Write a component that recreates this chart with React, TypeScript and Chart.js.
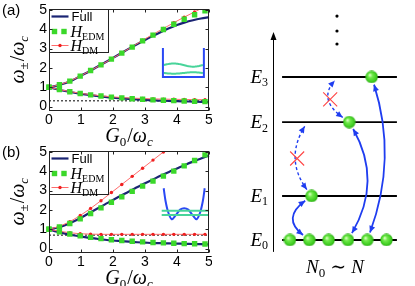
import React, { useEffect, useRef } from "react";
import { Chart, registerables } from "chart.js";

Chart.register(...registerables);

// ---------------- data: panels (a) and (b) ----------------
const G_LINE = [0, 0.25, 0.5, 0.75, 1, 1.25, 1.5, 1.75, 2, 2.25, 2.5, 2.75, 3, 3.25, 3.5, 3.75, 4, 4.25, 4.5, 4.75, 5];
const G_MARK = [0, 0.325, 0.65, 0.975, 1.3, 1.625, 1.95, 2.275, 2.6, 2.925, 3.25, 3.575, 3.9, 4.225, 4.55, 4.875];
const X_TICKS = [0, 1, 2, 3, 4, 5];
const Y_TICKS = [0, 1, 2, 3, 4, 5];

const A_FULL_UP = [1.0, 1.09, 1.21, 1.38, 1.6, 1.82, 2.05, 2.28, 2.52, 2.76, 3.0, 3.23, 3.45, 3.66, 3.86, 4.05, 4.22, 4.36, 4.47, 4.56, 4.63];
const A_FULL_LO = [1.0, 0.9, 0.81, 0.73, 0.66, 0.6, 0.55, 0.5, 0.46, 0.43, 0.4, 0.37, 0.35, 0.33, 0.31, 0.3, 0.28, 0.27, 0.26, 0.25, 0.245];
const A_EDM_UP = [1.0, 1.13, 1.32, 1.58, 1.87, 2.16, 2.46, 2.77, 3.08, 3.4, 3.7, 3.99, 4.26, 4.52, 4.75, 4.96];
const A_EDM_LO = [1.0, 0.88, 0.77, 0.68, 0.61, 0.55, 0.49, 0.45, 0.41, 0.38, 0.35, 0.33, 0.31, 0.29, 0.27, 0.26];
const A_DM_UP = [1.0, 1.13, 1.32, 1.58, 1.87, 2.16, 2.46, 2.78, 3.1, 3.43, 3.74, 4.04, 4.34, 4.63, 4.9, 5.17];
const A_DM_LO = [1.0, 0.88, 0.78, 0.69, 0.62, 0.56, 0.51, 0.47, 0.44, 0.42, 0.4, 0.39, 0.38, 0.37, 0.36, 0.36];
const A_LIMIT = 0.3;

const B_FULL_UP = [1.0, 1.08, 1.21, 1.39, 1.6, 1.83, 2.06, 2.29, 2.52, 2.74, 2.96, 3.17, 3.38, 3.58, 3.78, 3.97, 4.15, 4.33, 4.5, 4.66, 4.82];
const B_FULL_LO = [1.0, 0.88, 0.78, 0.69, 0.62, 0.56, 0.51, 0.46, 0.42, 0.39, 0.36, 0.33, 0.31, 0.29, 0.28, 0.27, 0.26, 0.25, 0.24, 0.23, 0.22];
const B_EDM_UP = [1.0, 1.12, 1.3, 1.54, 1.82, 2.11, 2.4, 2.68, 2.96, 3.23, 3.49, 3.75, 4.01, 4.28, 4.56, 4.85];
const B_EDM_LO = [1.0, 0.87, 0.76, 0.66, 0.58, 0.52, 0.46, 0.42, 0.38, 0.35, 0.32, 0.3, 0.28, 0.26, 0.25, 0.24];
const B_DM_UP = [1.0, 1.15, 1.39, 1.71, 2.08, 2.48, 2.9, 3.32, 3.74, 4.16, 4.58, 5.0, 5.42, 5.84, 6.26, 6.68];
const B_DM_LO = [1.0, 0.9, 0.82, 0.77, 0.75, 0.74, 0.74, 0.74, 0.74, 0.74, 0.74, 0.74, 0.74, 0.74, 0.74, 0.74];
const B_LIMIT = 0.7;

const LEGEND_NAMES = ["Full", "EDM", "DM"];

// ---------------- data: panel (c) ----------------
const LEVEL_E = [0, 1, 2.68, 3.705];
const LEVEL_SUB = ["0", "1", "2", "3"];
const GROUND_SITES = [0, 1, 2, 3, 4, 5];
const EXCITED = [
  { x: 1.12, level: 1 },
  { x: 3.07, level: 2 },
  { x: 4.23, level: 3 },
];
const ELLIPSIS_Y = [4.455, 4.75, 5.09];
const TRANSITIONS = [
  { from: { x: 1, level: 0 }, to: { x: 1.12, level: 1 }, allowed: true, bend: -29 },
  { from: { x: 3, level: 0 }, to: { x: 3.07, level: 2 }, allowed: true, bend: 34 },
  { from: { x: 4, level: 0 }, to: { x: 4.23, level: 3 }, allowed: true, bend: 28 },
  { from: { x: 1.12, level: 1 }, to: { x: 0.9, level: 2 }, allowed: false, bend: -25 },
  { from: { x: 3.07, level: 2 }, to: { x: 2.49, level: 3 }, allowed: false, bend: -26 },
];

// ---------------- styles ----------------
const SERIF = '"Liberation Serif", "DejaVu Serif", serif';
const SANS_FAMILY = '"Liberation Sans", Arial, sans-serif';
const it = (s: number) => `italic ${s}px ${SERIF}`;
const rm = (s: number) => `${s}px ${SERIF}`;
const sans = (s: number) => `${s}px ${SANS_FAMILY}`;

const NAVY = "#1a2473";
const GREEN = "#3bd82a";
const RED_LINE = "#ff6b6b";
const RED_DOT = "#f02020";
const ARROW_BLUE = "#1f3df0";
const INSET_BLUE = "#2a48f5";
const INSET_TEAL = "#48d49a";

type Seg = { t: string; f: string; dy?: number; gap?: number; pre?: number };

function drawSegs(ctx: CanvasRenderingContext2D, segs: Seg[], x: number, y: number, align: string) {
  let w = 0;
  const widths = segs.map((s) => {
    ctx.font = s.f;
    const m = ctx.measureText(s.t).width + (s.gap || 0) + (s.pre || 0);
    w += m;
    return m;
  });
  let cx = align === "left" ? x : align === "center" ? x - w / 2 : x - w;
  ctx.textAlign = "left";
  ctx.textBaseline = "alphabetic";
  segs.forEach((s, i) => {
    ctx.font = s.f;
    ctx.fillText(s.t, cx + (s.pre || 0), y + (s.dy || 0));
    cx += widths[i];
  });
}

function smoothPath(ctx: CanvasRenderingContext2D, pts: number[][]) {
  ctx.moveTo(pts[0][0], pts[0][1]);
  for (let i = 0; i < pts.length - 1; i++) {
    const p0 = pts[Math.max(0, i - 1)];
    const p1 = pts[i];
    const p2 = pts[i + 1];
    const p3 = pts[Math.min(pts.length - 1, i + 2)];
    ctx.bezierCurveTo(
      p1[0] + (p2[0] - p0[0]) / 6, p1[1] + (p2[1] - p0[1]) / 6,
      p2[0] - (p3[0] - p1[0]) / 6, p2[1] - (p3[1] - p1[1]) / 6,
      p2[0], p2[1]
    );
  }
}

// inset decorations (data-space anchors)
const BOX_INSET = { left: 3.56, right: 4.84, top: 3.03, bottom: 1.53, levels: [2.15, 1.74] };
const WELL_INSET = { center: 4.225, bottom: 1.52 };

function drawBoxInset(ctx: CanvasRenderingContext2D, xs: any, ys: any) {
  const x0 = xs.getPixelForValue(BOX_INSET.left);
  const x1 = xs.getPixelForValue(BOX_INSET.right);
  const yt = ys.getPixelForValue(BOX_INSET.top);
  const yb = ys.getPixelForValue(BOX_INSET.bottom);
  ctx.save();
  ctx.lineWidth = 2;
  ctx.strokeStyle = INSET_TEAL;
  BOX_INSET.levels.forEach((lv, k) => {
    const ly = ys.getPixelForValue(lv);
    const amp = k === 0 ? -1.6 : 0.7;
    ctx.beginPath();
    for (let i = 0; i <= 40; i++) {
      const t = i / 40;
      const px = x0 + 1 + t * (x1 - x0 - 2);
      const py = ly + amp * Math.sin(2 * Math.PI * t);
      if (i === 0) ctx.moveTo(px, py);
      else ctx.lineTo(px, py);
    }
    ctx.stroke();
  });
  ctx.strokeStyle = INSET_BLUE;
  ctx.beginPath();
  ctx.moveTo(x0, yt);
  ctx.lineTo(x0, yb);
  ctx.lineTo(x1, yb);
  ctx.lineTo(x1, yt);
  ctx.stroke();
  ctx.restore();
}

function drawWellInset(ctx: CanvasRenderingContext2D, xs: any, ys: any) {
  const cx = xs.getPixelForValue(WELL_INSET.center);
  const cy = ys.getPixelForValue(WELL_INSET.bottom);
  const shape = [[-20.5, 31], [-18.6, 18], [-16, 7], [-12.5, 0], [-8.5, 4], [-4, 9.6], [0, 11], [4, 9.6], [8.5, 4], [12.5, 0], [16, 7], [18.6, 18], [20.5, 31]];
  ctx.save();
  ctx.lineWidth = 2;
  ctx.strokeStyle = INSET_BLUE;
  ctx.beginPath();
  smoothPath(ctx, shape.map((p) => [cx + p[0], cy - p[1]]));
  ctx.stroke();
  ctx.strokeStyle = INSET_TEAL;
  [8.6, 4.3].forEach((h) => {
    ctx.beginPath();
    ctx.moveTo(cx - 22.5, cy - h);
    ctx.lineTo(cx + 24, cy - h);
    ctx.stroke();
  });
  ctx.restore();
}

function panelPlugin(p: any) {
  return {
    id: "panelDeco",
    afterDatasetsDraw(chart: any) {
      const { ctx, scales } = chart;
      if (p.inset === "box") drawBoxInset(ctx, scales.x, scales.y);
      else drawWellInset(ctx, scales.x, scales.y);
    },
    afterDraw(chart: any) {
      const { ctx, chartArea: ca, scales } = chart;
      const xs = scales.x;
      const ys = scales.y;
      const L = Math.round(ca.left) + 0.5;
      const R = Math.round(ca.right) - 0.5;
      const T = Math.round(ca.top) + 0.5;
      const B = Math.round(ca.bottom) - 0.5;
      ctx.save();
      // legend box
      const lw = 59;
      const lh = 43;
      ctx.fillStyle = "#fff";
      ctx.fillRect(L, T, lw, lh);
      ctx.strokeStyle = "#222";
      ctx.lineWidth = 1;
      ctx.strokeRect(L, T, lw, lh);
      // legend entries
      const rowY = [T + 7, T + 22, T + 36];
      ctx.fillStyle = "#000";
      ctx.strokeStyle = NAVY;
      ctx.lineWidth = 2.2;
      ctx.beginPath();
      ctx.moveTo(L + 2, rowY[0]);
      ctx.lineTo(L + 19, rowY[0]);
      ctx.stroke();
      ctx.fillStyle = "#000";
      drawSegs(ctx, [{ t: LEGEND_NAMES[0], f: sans(13) }], L + 22, rowY[0] + 4.5, "left");
      ctx.fillStyle = GREEN;
      [L + 5, L + 14.5].forEach((sx) => ctx.fillRect(sx - 2.7, rowY[1] - 2.7, 5.4, 5.4));
      ctx.fillStyle = "#000";
      drawSegs(ctx, [{ t: "H", f: it(16) }, { t: LEGEND_NAMES[1], f: rm(10), dy: 3.5 }], L + 21, rowY[1] + 5, "left");
      ctx.strokeStyle = RED_LINE;
      ctx.lineWidth = 1;
      ctx.beginPath();
      ctx.moveTo(L + 2, rowY[2]);
      ctx.lineTo(L + 19, rowY[2]);
      ctx.stroke();
      ctx.fillStyle = RED_DOT;
      ctx.beginPath();
      ctx.arc(L + 10.5, rowY[2], 1.7, 0, Math.PI * 2);
      ctx.fill();
      ctx.fillStyle = "#000";
      drawSegs(ctx, [{ t: "H", f: it(16) }, { t: LEGEND_NAMES[2], f: rm(10), dy: 3.5 }], L + 21, rowY[2] + 5, "left");

      // frame
      ctx.strokeStyle = "#222";
      ctx.lineWidth = 1;
      ctx.strokeRect(L, T, R - L, B - T);
      // inward ticks
      ctx.beginPath();
      X_TICKS.forEach((v) => {
        const px = Math.round(xs.getPixelForValue(v)) + 0.5;
        ctx.moveTo(px, B);
        ctx.lineTo(px, B - 3);
        ctx.moveTo(px, T);
        ctx.lineTo(px, T + 3);
      });
      Y_TICKS.forEach((v) => {
        const py = Math.round(ys.getPixelForValue(v)) + 0.5;
        ctx.moveTo(L, py);
        ctx.lineTo(L + 3, py);
        ctx.moveTo(R, py);
        ctx.lineTo(R - 3, py);
      });
      ctx.stroke();

      // axis titles
      ctx.fillStyle = "#000";
      drawSegs(
        ctx,
        [
          { t: "G", f: it(20) },
          { t: "0", f: rm(13), dy: 4 },
          { t: "/", f: rm(20), pre: 1 },
          { t: "ω", f: it(20) },
          { t: "c", f: it(13), dy: 4 },
        ],
        (ca.left + ca.right) / 2,
        ca.bottom + 31.5,
        "center"
      );
      ctx.save();
      ctx.translate(18, (ca.top + ca.bottom) / 2);
      ctx.rotate(-Math.PI / 2);
      drawSegs(
        ctx,
        [
          { t: "ω", f: it(20) },
          { t: "±", f: rm(13), dy: 4 },
          { t: "/", f: rm(20), pre: 1 },
          { t: "ω", f: it(20) },
          { t: "c", f: it(13), dy: 4 },
        ],
        0,
        6,
        "center"
      );
      ctx.restore();
      drawSegs(ctx, [{ t: p.label, f: sans(15) }], 2, 15, "left");
      ctx.restore();
    },
  };
}

function panelConfig(p: any, height: number) {
  const pts = (xs: number[], ys: number[]) => xs.map((x, i) => ({ x, y: ys[i] }));
  const clip = { left: 6, top: 0, right: 6, bottom: 6 };
  const edm = (ys: number[]) => ({
    data: pts(G_MARK, ys), showLine: false, pointStyle: "rect", pointRadius: 3.8,
    pointBackgroundColor: GREEN, pointBorderWidth: 0, borderWidth: 0, order: 0, clip,
  });
  const dm = (ys: number[]) => ({
    data: pts(G_MARK, ys), borderColor: RED_LINE, borderWidth: 1, pointRadius: 1.7,
    pointBackgroundColor: RED_DOT, pointBorderWidth: 0, tension: 0, order: 1, clip,
  });
  const full = (ys: number[]) => ({
    data: pts(G_LINE, ys), borderColor: NAVY, borderWidth: 2.2, pointRadius: 0,
    cubicInterpolationMode: "monotone", order: 2, clip,
  });
  const limit = {
    data: [{ x: X_TICKS[0], y: p.limit }, { x: X_TICKS[X_TICKS.length - 1], y: p.limit }],
    borderColor: "#000", borderWidth: 1, borderDash: [2, 2], pointRadius: 0, order: 3,
  };
  const tickFont = { family: SANS_FAMILY, size: 14 };
  return {
    type: "line",
    data: {
      datasets: [edm(p.edmUp), edm(p.edmLo), dm(p.dmUp), dm(p.dmLo), full(p.fullUp), full(p.fullLo), limit],
    },
    options: {
      responsive: false,
      animation: false,
      events: [],
      layout: { autoPadding: false, padding: { top: 9, right: 3, left: 0, bottom: 0 } },
      plugins: { legend: { display: false }, tooltip: { enabled: false } },
      scales: {
        x: {
          type: "linear", min: 0, max: 5,
          grid: { display: false, drawTicks: false },
          border: { display: false },
          ticks: { font: tickFont, color: "#000", padding: 1, maxRotation: 0 },
          afterBuildTicks: (s: any) => { s.ticks = X_TICKS.map((v) => ({ value: v })); },
          afterFit: (s: any) => {
            s.height = height - 110.5;
            s.paddingLeft = 0; s.paddingRight = 0;
          },
        },
        y: {
          type: "linear", min: -0.2, max: 5.05,
          grid: { display: false, drawTicks: false },
          border: { display: false },
          ticks: { font: tickFont, color: "#000", padding: 2 },
          afterBuildTicks: (s: any) => { s.ticks = Y_TICKS.map((v) => ({ value: v })); },
          afterFit: (s: any) => {
            s.width = 49;
            s.paddingTop = 0; s.paddingBottom = 0;
          },
        },
      },
    },
    plugins: [panelPlugin(p)],
  };
}

const PANEL_A = {
  label: "(a)", inset: "box", limit: A_LIMIT,
  fullUp: A_FULL_UP, fullLo: A_FULL_LO, edmUp: A_EDM_UP, edmLo: A_EDM_LO, dmUp: A_DM_UP, dmLo: A_DM_LO,
};
const PANEL_B = {
  label: "(b)", inset: "well", limit: B_LIMIT,
  fullUp: B_FULL_UP, fullLo: B_FULL_LO, edmUp: B_EDM_UP, edmLo: B_EDM_LO, dmUp: B_DM_UP, dmLo: B_DM_LO,
};

// ---------------- panel (c) ----------------
const C_X = { min: -4.041, max: 6.477 };
const C_Y = { min: -1.04545, max: 5.4545 };
const LEVEL_SPAN = [-0.41, 5.54];
const AXIS_X = -0.88;
const AXIS_SPAN = [-0.27, 4.73];
const ELLIPSIS_X = 2.435;

function makeSphere() {
  const c = document.createElement("canvas");
  c.width = 13;
  c.height = 13;
  const g = c.getContext("2d")!;
  const grad = g.createRadialGradient(4.6, 4.4, 0.4, 6.5, 6.5, 6.5);
  grad.addColorStop(0, "#dcffc4");
  grad.addColorStop(0.3, "#72ea4c");
  grad.addColorStop(0.8, "#3ccb1f");
  grad.addColorStop(1, "#2b9f15");
  g.fillStyle = grad;
  g.beginPath();
  g.arc(6.5, 6.5, 6.2, 0, Math.PI * 2);
  g.fill();
  return c;
}

const diagramPlugin = {
  id: "diagramDeco",
  beforeDatasetsDraw(chart: any) {
    const { ctx, scales } = chart;
    const xs = scales.x;
    const ys = scales.y;
    ctx.save();
    const ax = Math.round(xs.getPixelForValue(AXIS_X)) + 0.5;
    const y0 = ys.getPixelForValue(AXIS_SPAN[0]);
    const y1 = ys.getPixelForValue(AXIS_SPAN[1]);
    ctx.strokeStyle = "#000";
    ctx.fillStyle = "#000";
    ctx.lineWidth = 1;
    ctx.beginPath();
    ctx.moveTo(ax, y0);
    ctx.lineTo(ax, y1 + 5);
    ctx.stroke();
    ctx.beginPath();
    ctx.moveTo(ax, y1);
    ctx.lineTo(ax - 3, y1 + 8);
    ctx.lineTo(ax + 3, y1 + 8);
    ctx.closePath();
    ctx.fill();
    const lx = xs.getPixelForValue(-1.14);
    LEVEL_E.forEach((e, i) => {
      const py = ys.getPixelForValue(e);
      drawSegs(ctx, [{ t: "E", f: it(19) }, { t: LEVEL_SUB[i], f: rm(12), dy: 3.5 }], lx, py + 6, "right");
    });
    drawSegs(
      ctx,
      [
        { t: "N", f: it(19) },
        { t: "0", f: rm(13), dy: 4, gap: 5 },
        { t: "∼", f: rm(19), gap: 5 },
        { t: "N", f: it(19) },
      ],
      xs.getPixelForValue(2.33),
      ys.getPixelForValue(-0.75),
      "center"
    );
    ctx.restore();
  },
  afterDatasetsDraw(chart: any) {
    const { ctx, scales } = chart;
    const xs = scales.x;
    const ys = scales.y;
    const P = (pt: any) => [xs.getPixelForValue(pt.x), ys.getPixelForValue(LEVEL_E[pt.level])];
    const isBall = (pt: any) =>
      (pt.level === 0 && GROUND_SITES.indexOf(pt.x) >= 0) ||
      EXCITED.some((b) => b.x === pt.x && b.level === pt.level);
    const shift = (A: number[], C: number[], d: number) => {
      const dx = C[0] - A[0];
      const dy = C[1] - A[1];
      const n = Math.hypot(dx, dy);
      return [A[0] + (dx / n) * d, A[1] + (dy / n) * d];
    };
    const head = (tip: number[], C: number[]) => {
      const dx = tip[0] - C[0];
      const dy = tip[1] - C[1];
      const n = Math.hypot(dx, dy);
      const ux = dx / n;
      const uy = dy / n;
      const bx = tip[0] - ux * 6.5;
      const by = tip[1] - uy * 6.5;
      ctx.beginPath();
      ctx.moveTo(tip[0], tip[1]);
      ctx.lineTo(bx - uy * 3, by + ux * 3);
      ctx.lineTo(bx + uy * 3, by - ux * 3);
      ctx.closePath();
      ctx.fill();
    };
    ctx.save();
    TRANSITIONS.forEach((tr) => {
      const A = P(tr.from);
      const B = P(tr.to);
      const C = [(A[0] + B[0]) / 2 + tr.bend, (A[1] + B[1]) / 2];
      const a = shift(A, C, isBall(tr.from) ? 8 : 5);
      const b = shift(B, C, isBall(tr.to) ? 8 : 5);
      ctx.strokeStyle = ARROW_BLUE;
      ctx.fillStyle = ARROW_BLUE;
      ctx.lineWidth = tr.allowed ? 1.8 : 1.4;
      ctx.setLineDash(tr.allowed ? [] : [3, 2.5]);
      ctx.beginPath();
      ctx.moveTo(a[0], a[1]);
      ctx.quadraticCurveTo(C[0], C[1], b[0], b[1]);
      ctx.stroke();
      ctx.setLineDash([]);
      head(a, C);
      head(b, C);
      if (!tr.allowed) {
        const mx = 0.25 * a[0] + 0.5 * C[0] + 0.25 * b[0] + 2;
        const my = 0.25 * a[1] + 0.5 * C[1] + 0.25 * b[1];
        ctx.strokeStyle = "#ff4545";
        ctx.lineWidth = 1.1;
        ctx.beginPath();
        ctx.moveTo(mx - 7, my - 7);
        ctx.lineTo(mx + 7, my + 7);
        ctx.moveTo(mx + 7, my - 7);
        ctx.lineTo(mx - 7, my + 7);
        ctx.stroke();
      }
    });
    ctx.restore();
  },
};

function diagramConfig(sphere: HTMLCanvasElement) {
  const levelSets = LEVEL_E.map((e) => ({
    data: LEVEL_SPAN.map((x) => ({ x, y: e })),
    showLine: true, borderColor: "#000", borderWidth: 1.8, pointRadius: 0, order: 2,
  }));
  return {
    type: "scatter",
    data: {
      datasets: [
        {
          data: [
            ...GROUND_SITES.map((x) => ({ x, y: LEVEL_E[0] })),
            ...EXCITED.map((b) => ({ x: b.x, y: LEVEL_E[b.level] })),
          ],
          pointStyle: sphere, pointRadius: 6.5, order: 0,
        },
        {
          data: ELLIPSIS_Y.map((y) => ({ x: ELLIPSIS_X, y })),
          pointRadius: 1.6, pointBackgroundColor: "#000", pointBorderWidth: 0, order: 1,
        },
        ...levelSets,
      ],
    },
    options: {
      responsive: false,
      animation: false,
      events: [],
      layout: { autoPadding: false, padding: 0 },
      plugins: { legend: { display: false }, tooltip: { enabled: false } },
      scales: {
        x: { type: "linear", display: false, min: C_X.min, max: C_X.max },
        y: { type: "linear", display: false, min: C_Y.min, max: C_Y.max },
      },
    },
    plugins: [diagramPlugin],
  };
}

export default function App() {
  const aRef = useRef<HTMLCanvasElement>(null);
  const bRef = useRef<HTMLCanvasElement>(null);
  const cRef = useRef<HTMLCanvasElement>(null);
  useEffect(() => {
    const charts = [
      new Chart(aRef.current as any, panelConfig(PANEL_A, 146) as any),
      new Chart(bRef.current as any, panelConfig(PANEL_B, 144) as any),
      new Chart(cRef.current as any, diagramConfig(makeSphere()) as any),
    ];
    return () => charts.forEach((c) => c.destroy());
  }, []);
  return (
    <div style={{ position: "absolute", left: 0, top: 0, width: 415, height: 286, background: "#fff", overflow: "hidden" }}>
      <canvas ref={aRef} width={212} height={146} style={{ position: "absolute", left: 0, top: 0 }} />
      <canvas ref={bRef} width={212} height={144} style={{ position: "absolute", left: 0, top: 142 }} />
      <canvas ref={cRef} width={203} height={286} style={{ position: "absolute", left: 212, top: 0 }} />
    </div>
  );
}
